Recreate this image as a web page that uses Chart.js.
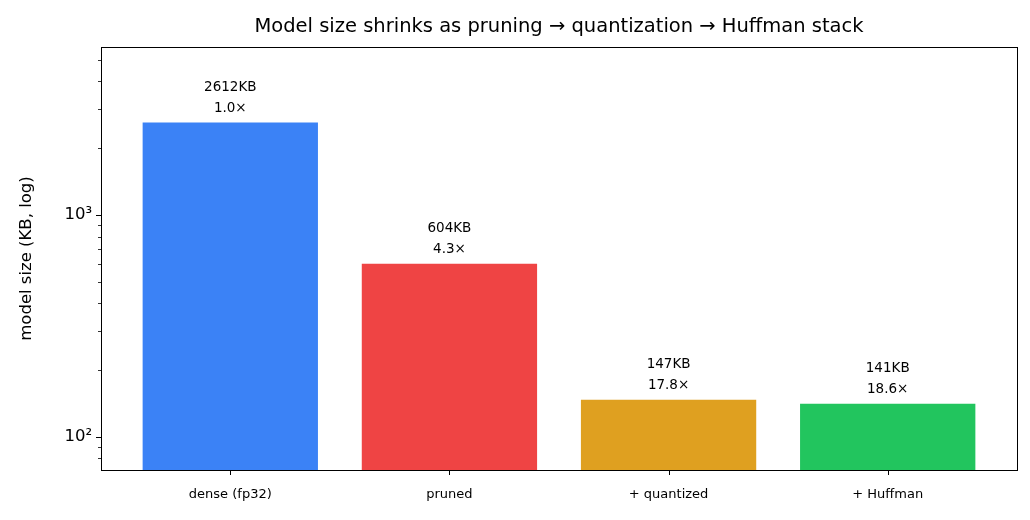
<!DOCTYPE html>
<html><head><meta charset="utf-8">
<script src="https://cdn.jsdelivr.net/npm/chart.js@4"></script>
<style>html,body{margin:0;padding:0;background:#fff}#w{width:1030px;height:520px}</style>
</head><body><div id="w"><canvas id="c"></canvas></div>
<script>
const categories = ['dense (fp32)', 'pruned', '+ quantized', '+ Huffman'];
const sizesKB = [2612, 604, 147, 141];
const ratioLabels = ['1.0×', '4.3×', '17.8×', '18.6×'];
const colors = ['#3b82f6', '#ef4444', '#dfa020', '#22c55e'];
const majorTicks = [100, 1000];
const minorTicks = [80, 90, 200, 300, 400, 500, 600, 700, 800, 900, 2000, 3000, 4000, 5000];
const FONT = "'DejaVu Sans', sans-serif";

const deco = {
  id: 'deco',
  afterDraw(chart) {
    const ctx = chart.ctx, a = chart.chartArea, y = chart.scales.y, x = chart.scales.x;
    ctx.save();
    ctx.strokeStyle = '#000'; ctx.lineWidth = 1;
    ctx.strokeRect(Math.round(a.left) + 0.5, Math.round(a.top) + 0.5, Math.round(a.right - a.left), Math.round(a.bottom - a.top));
    ctx.beginPath();
    majorTicks.forEach(v => { const p = Math.round(y.getPixelForValue(v)) + 0.5; ctx.moveTo(a.left - 5, p); ctx.lineTo(a.left, p); });
    ctx.stroke();
    ctx.lineWidth = 0.8; ctx.beginPath();
    minorTicks.forEach(v => { const p = Math.round(y.getPixelForValue(v)) + 0.5; ctx.moveTo(a.left - 3, p); ctx.lineTo(a.left, p); });
    ctx.stroke();
    ctx.lineWidth = 1; ctx.beginPath();
    categories.forEach((c, i) => { const p = Math.round(x.getPixelForValue(i)) + 0.5; ctx.moveTo(p, a.bottom); ctx.lineTo(p, a.bottom + 5); });
    ctx.stroke();
    ctx.fillStyle = '#000'; ctx.textAlign = 'center'; ctx.textBaseline = 'middle';
    ctx.font = '13.5px ' + FONT;
    chart.getDatasetMeta(0).data.forEach((bar, i) => {
      ctx.fillText(ratioLabels[i], bar.x, bar.y - 14);
      ctx.fillText(sizesKB[i] + 'KB', bar.x, bar.y - 35);
    });
    ctx.font = '19.5px ' + FONT;
    ctx.fillText('Model size shrinks as pruning → quantization → Huffman stack', (a.left + a.right) / 2, 27);
    ctx.translate(27, (a.top + a.bottom) / 2); ctx.rotate(-Math.PI / 2);
    ctx.font = '16.5px ' + FONT;
    ctx.fillText('model size (KB, log)', 0, 0);
    ctx.restore();
  }
};

new Chart(document.getElementById('c'), {
  type: 'bar',
  data: { datasets: [{ data: sizesKB.map((v, i) => ({ x: i, y: v })), backgroundColor: colors, categoryPercentage: 0.8, barPercentage: 1 }] },
  options: {
    responsive: true, maintainAspectRatio: false, animation: false,
    layout: { padding: { left: 0, right: 13, top: 47, bottom: 0 } },
    plugins: { legend: { display: false }, tooltip: { enabled: false } },
    scales: {
      x: {
        type: 'linear', min: -0.59, max: 3.59, offset: false,
        grid: { display: false, drawTicks: false }, border: { display: false },
        ticks: { color: '#000', font: { family: FONT, size: 13 }, padding: 17, autoSkip: false, maxRotation: 0,
          callback: v => categories[v] !== undefined ? categories[v] : '' },
        afterBuildTicks(s) { s.ticks = categories.map((c, i) => ({ value: i })); },
        afterFit(s) { s.height = 50; }
      },
      y: {
        type: 'logarithmic', min: 71, max: 5715,
        grid: { display: false, drawTicks: false }, border: { display: false },
        ticks: {
          color: '#000', font: { family: FONT, size: 16.5 }, padding: 9, autoSkip: false,
          callback: v => v === 100 ? '10²' : (v === 1000 ? '10³' : '')
        },
        afterBuildTicks(s) { s.ticks = majorTicks.map(v => ({ value: v })); },
        afterFit(s) { s.width = 101; }
      }
    }
  },
  plugins: [deco]
});
</script></body></html>
